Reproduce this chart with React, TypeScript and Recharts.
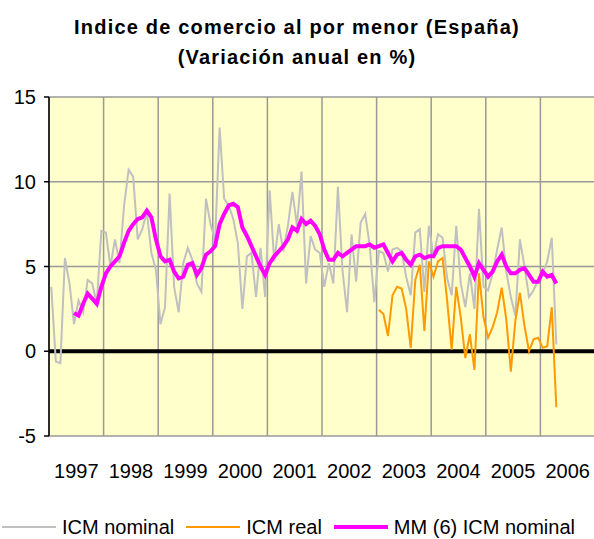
import { CartesianGrid, ComposedChart, Line, ReferenceLine, XAxis, YAxis } from 'recharts';

const FONT = '"Liberation Sans", Arial, sans-serif';

const YEARS = ['1997', '1998', '1999', '2000', '2001', '2002', '2003', '2004', '2005', '2006'];
const Y_TICKS = [-5, 0, 5, 10, 15];

// ICM nominal, monthly from Jan 1997
const ICM_NOMINAL = [
  3.8, -0.6, -0.7, 5.5, 4.0, 1.6, 3.0, 2.3, 4.2, 4.0,
  2.8, 7.1, 7.0, 5.0, 6.6, 5.2, 8.6, 10.7, 10.3, 6.6,
  7.2, 8.2, 5.8, 4.8, 1.6, 2.6, 9.3, 3.8, 2.3, 5.2,
  6.1, 5.4, 4.0, 3.5, 9.0, 7.5, 6.5, 13.2, 9.0, 8.6,
  7.8, 6.4, 2.5, 5.6, 5.8, 3.2, 6.1, 3.2, 9.5, 5.3,
  7.5, 5.9, 7.4, 9.4, 7.4, 10.6, 4.0, 6.8, 6.0, 5.8,
  3.8, 5.2, 4.0, 9.7, 4.8, 2.3, 6.9, 4.1, 7.6, 8.1,
  6.2, 2.9, 5.9, 5.8, 4.7, 6.0, 6.1, 5.9, 4.4, 3.3,
  7.0, 7.2, 3.5, 7.4, 5.6, 6.9, 6.7, 4.3, 3.3, 7.4,
  4.0, 2.6, 4.6, 2.5, 8.4, 3.8, 3.6, 4.6, 6.0, 7.3,
  4.7, 3.2, 2.1, 6.6, 5.0, 3.2, 3.6, 4.2, 4.6, 5.3,
  6.7, 0.4,
];

// ICM real, from Jan 2003
const ICM_REAL = [
  ...Array(72).fill(null),
  2.45, 2.2, 0.9, 3.3, 3.8, 3.7, 2.5, 0.2, 4.2, 5.1,
  1.2, 5.3, 4.4, 5.3, 5.5, 3.0, 0.1, 3.8, 2.0, -0.4,
  1.0, -1.1, 4.6, 2.0, 0.8, 1.4, 2.3, 3.75, 1.9, -1.2,
  1.8, 3.45, 1.5, 0.0, 0.7, 0.8, 0.2, 0.3, 2.6, -3.3,
];

// MM (6) ICM nominal, from Jun 1997
const MM6 = [
  null, null, null, null, null,
  2.25, 2.1, 2.8, 3.4, 3.1, 2.8, 3.8, 4.6, 5.0, 5.3,
  5.6, 6.4, 7.1, 7.5, 7.8, 7.9, 8.3, 7.9, 6.6, 5.6,
  5.3, 5.4, 4.7, 4.3, 4.4, 5.1, 5.2, 4.5, 4.9, 5.7,
  5.9, 6.2, 7.5, 8.1, 8.6, 8.7, 8.5, 7.3, 6.8, 6.2,
  5.6, 5.0, 4.5, 5.2, 5.6, 5.9, 6.2, 6.6, 7.3, 7.1,
  7.8, 7.5, 7.7, 7.4, 6.9, 6.0, 5.4, 5.4, 5.8, 5.6,
  5.8, 6.0, 6.2, 6.2, 6.2, 6.3, 6.1, 6.2, 6.3, 5.8,
  5.3, 5.7, 5.8, 5.4, 5.1, 5.6, 5.7, 5.5, 5.6, 5.6,
  6.1, 6.2, 6.2, 6.2, 6.2, 6.0, 5.5, 5.0, 4.4, 5.2,
  4.8, 4.4, 4.7, 5.3, 5.7, 5.0, 4.6, 4.6, 4.8, 4.9,
  4.5, 4.1, 4.1, 4.7, 4.4, 4.5, 4.0,
];

const data = ICM_NOMINAL.map((v, i) => ({
  m: i + 0.5,
  nominal: v,
  real: ICM_REAL[i],
  mm6: MM6[i],
}));

const xTicks = [...YEARS.map((_, i) => i * 12), YEARS.length * 12];

const YearTick = (props: any) => {
  const { x, y, payload } = props;
  const idx = Math.round(payload.value / 12);
  if (idx >= YEARS.length) return <g />;
  return (
    <text x={x + 27.3} y={y} dy={34} textAnchor="middle" fontSize={20} fill="#000" fontFamily={FONT}>
      {YEARS[idx]}
    </text>
  );
};

const legendItems = [
  { label: 'ICM nominal', color: '#C0C0C0', width: 2.5 },
  { label: 'ICM real', color: '#FF9900', width: 2.5 },
  { label: 'MM (6) ICM nominal', color: '#FF00FF', width: 4 },
];

export default function App() {
  return (
    <div
      style={{
        position: 'absolute',
        left: 0,
        top: 0,
        width: 594,
        height: 539,
        overflow: 'hidden',
        background: '#fff',
        fontFamily: FONT,
      }}
    >
      <div
        style={{
          position: 'absolute',
          top: 12,
          left: 0,
          width: 594,
          textAlign: 'center',
          fontWeight: 'bold',
          fontSize: 20,
          lineHeight: '30px',
          letterSpacing: 1.2,
          color: '#000',
        }}
      >
        Indice de comercio al por menor (España)
        <br />
        (Variación anual en %)
      </div>

      <div style={{ position: 'absolute', left: 0, top: 0 }}>
        <ComposedChart width={600} height={539} data={data} margin={{ top: 97, right: 5, left: 0, bottom: 63 }}>
          <CartesianGrid fill="#FFFFCC" fillOpacity={1} stroke="#999999" strokeWidth={1.5} />
          <XAxis
            type="number"
            dataKey="m"
            domain={[0, 120]}
            ticks={xTicks}
            interval={0}
            height={40}
            axisLine={false}
            tickLine={false}
            tick={<YearTick />}
          />
          <YAxis
            type="number"
            domain={[-5, 15]}
            ticks={Y_TICKS}
            interval={0}
            width={49}
            axisLine={{ stroke: '#000', strokeWidth: 1.5 }}
            tickLine={{ stroke: '#000', strokeWidth: 1.5 }}
            tickSize={5}
            tickMargin={8}
            tick={{ fontSize: 20, fill: '#000', fontFamily: FONT }}
          />
          <ReferenceLine y={0} stroke="#000" strokeWidth={4} />
          <Line type="linear" dataKey="nominal" stroke="#C0C0C0" strokeWidth={2} dot={false} isAnimationActive={false} />
          <Line type="linear" dataKey="real" stroke="#FF9900" strokeWidth={2} dot={false} isAnimationActive={false} />
          <Line type="linear" dataKey="mm6" stroke="#FF00FF" strokeWidth={4} dot={false} isAnimationActive={false} />
        </ComposedChart>
      </div>

      <div
        style={{
          position: 'absolute',
          top: 515,
          left: 2,
          height: 24,
          display: 'flex',
          alignItems: 'center',
          fontSize: 20,
          color: '#000',
          whiteSpace: 'nowrap',
        }}
      >
        {legendItems.map((item) => (
          <div key={item.label} style={{ display: 'flex', alignItems: 'center', marginRight: 12 }}>
            <span style={{ display: 'inline-block', width: 54, height: item.width, background: item.color, marginRight: 6 }} />
            <span>{item.label}</span>
          </div>
        ))}
      </div>
    </div>
  );
}
